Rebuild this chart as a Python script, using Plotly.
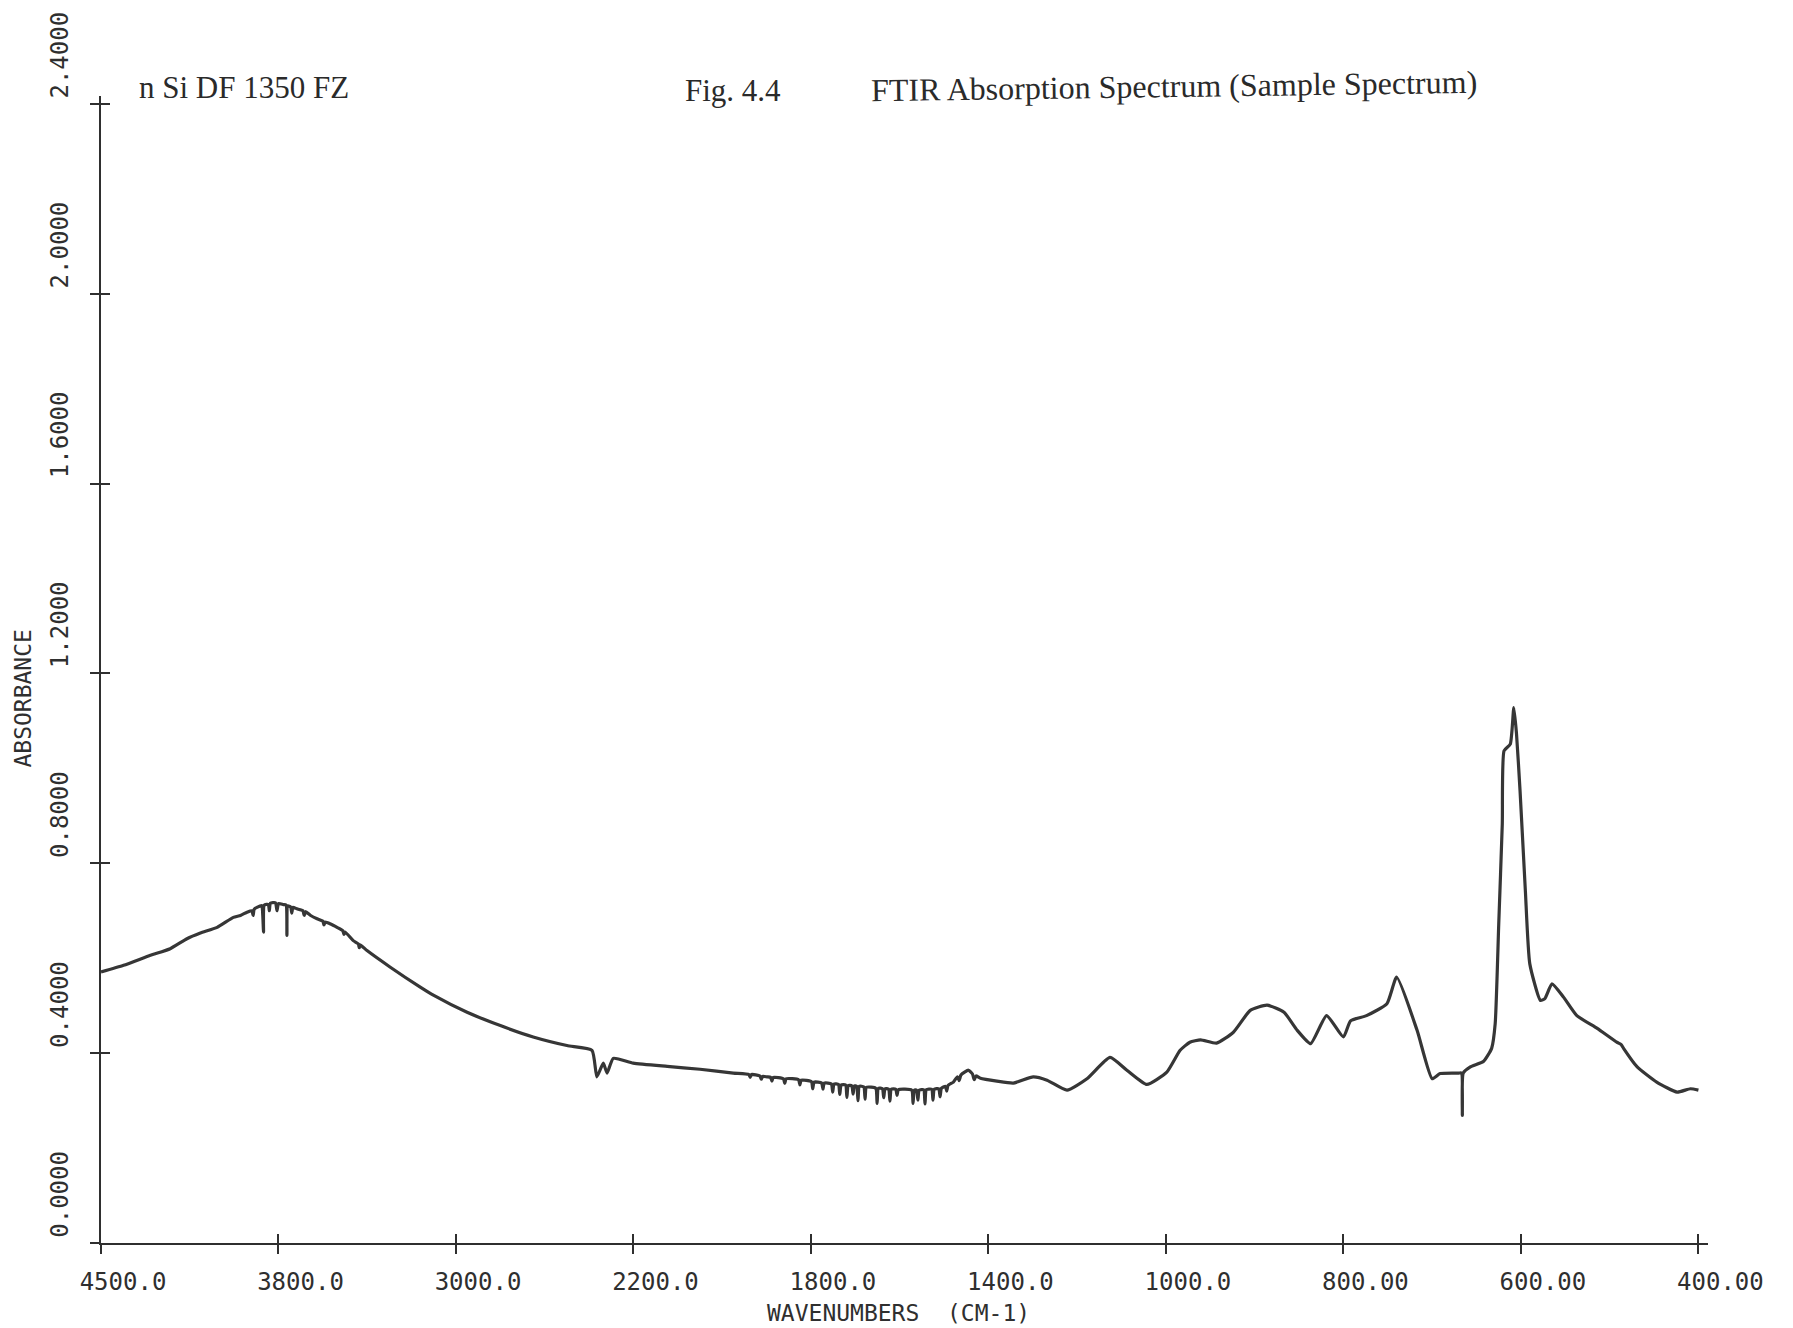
import numpy as np
import plotly.graph_objects as go

# Axis ticks (the wavenumber scale is piecewise between ticks)
tick_wn = [4500, 3800, 3000, 2200, 1800, 1400, 1000, 800, 600, 400]
tick_wn_labels = ["4500.0", "3800.0", "3000.0", "2200.0", "1800.0",
                  "1400.0", "1000.0", "800.00", "600.00", "400.00"]
abs_ticks = [0.0, 0.4, 0.8, 1.2, 1.6, 2.0, 2.4]
abs_tick_labels = ["0.0000", "0.4000", "0.8000", "1.2000", "1.6000", "2.0000", "2.4000"]

# Spectrum: wavenumber (cm-1) and absorbance
wavenumber = [
    4500, 4411, 4305, 4227, 4161, 4108, 4042, 3978, 3950, 3924,
    3905, 3900, 3896, 3885, 3866, 3862, 3859, 3856, 3840, 3836,
    3832, 3812, 3806, 3800, 3778, 3766, 3762, 3758, 3745, 3740,
    3735, 3717, 3690, 3684, 3678, 3655, 3626, 3600, 3595, 3590,
    3565, 3536, 3510, 3505, 3500, 3463, 3440, 3436, 3432, 3401,
    3296, 3161, 3102, 2950, 2800, 2652, 2500, 2387, 2365, 2336,
    2319, 2291, 2201, 2124, 2050, 1975, 1940, 1937, 1934, 1915,
    1912, 1909, 1899,
    1891, 1888, 1885, 1862, 1859, 1856, 1828, 1825, 1822,
    1799, 1796, 1793, 1776, 1773, 1770, 1754, 1751, 1748,
    1738, 1735, 1732, 1722, 1719, 1716, 1708, 1705, 1702,
    1697, 1694, 1691, 1681, 1678, 1675, 1654, 1651, 1648,
    1639, 1636, 1633, 1625, 1622, 1619, 1609, 1606, 1603,
    1573, 1570, 1567, 1562, 1559, 1556, 1546, 1543, 1540,
    1528, 1525, 1522, 1512, 1509, 1506, 1497, 1494, 1491,
    1479, 1470, 1466, 1462, 1445, 1436, 1432, 1428, 1418,
    1381, 1344, 1299, 1268, 1223, 1178, 1126, 1088, 1043, 999,
    984, 973, 961, 943, 924, 905, 886, 867, 852, 837,
    819, 800, 792, 774, 751, 740, 717, 700, 691, 670,
    667, 666, 665, 657, 642, 633, 629, 625, 621, 619,
    612, 608, 605, 601, 595, 590, 578, 573, 565, 552,
    537, 514, 492, 487, 484, 469, 447, 424, 409, 400,
]
absorbance = [
    0.571, 0.585, 0.606, 0.620, 0.641, 0.653, 0.665, 0.686, 0.690, 0.697,
    0.700, 0.690, 0.703, 0.707, 0.711, 0.690, 0.655, 0.712, 0.713, 0.700,
    0.716, 0.717, 0.700, 0.715, 0.713, 0.712, 0.648, 0.710, 0.708, 0.695,
    0.707, 0.704, 0.700, 0.690, 0.698, 0.690, 0.683, 0.678, 0.670, 0.676,
    0.672, 0.665, 0.658, 0.650, 0.655, 0.637, 0.630, 0.622, 0.628, 0.616,
    0.581, 0.539, 0.522, 0.486, 0.458, 0.434, 0.416, 0.406, 0.350, 0.379,
    0.358, 0.389, 0.379, 0.372, 0.366, 0.358, 0.355, 0.349, 0.355, 0.352,
    0.345, 0.351, 0.350,
    0.349, 0.341, 0.349, 0.346, 0.336, 0.346, 0.344, 0.333, 0.343,
    0.340, 0.325, 0.339, 0.337, 0.324, 0.337, 0.335, 0.318, 0.335,
    0.334, 0.313, 0.333, 0.333, 0.307, 0.332, 0.331, 0.314, 0.331,
    0.330, 0.300, 0.330, 0.329, 0.303, 0.328, 0.326, 0.294, 0.326,
    0.325, 0.306, 0.325, 0.324, 0.299, 0.324, 0.324, 0.311, 0.323,
    0.322, 0.294, 0.322, 0.322, 0.301, 0.322, 0.323, 0.293, 0.323,
    0.324, 0.301, 0.324, 0.325, 0.308, 0.326, 0.330, 0.320, 0.332,
    0.339, 0.350, 0.342, 0.354, 0.364, 0.356, 0.344, 0.352, 0.347,
    0.341, 0.337, 0.350, 0.343, 0.322, 0.346, 0.391, 0.364, 0.334, 0.360,
    0.406, 0.423, 0.428, 0.421, 0.444, 0.490, 0.501, 0.486, 0.448, 0.420,
    0.479, 0.434, 0.468, 0.479, 0.504, 0.560, 0.448, 0.346, 0.357, 0.358,
    0.358, 0.269, 0.358, 0.371, 0.383, 0.410, 0.462, 0.672, 0.883, 1.037,
    1.051, 1.128, 1.073, 0.953, 0.742, 0.588, 0.511, 0.515, 0.546, 0.518,
    0.479, 0.452, 0.423, 0.418, 0.409, 0.371, 0.339, 0.318, 0.325, 0.322,
]

# Map wavenumbers onto the evenly spaced tick positions of the plotter scale
tick_pos = np.arange(len(tick_wn), dtype=float)


def to_axis(wn):
    return np.interp(-np.asarray(wn, dtype=float), -np.asarray(tick_wn, dtype=float), tick_pos)


ink = "#2f2f2f"
plotter_font = dict(family="DejaVu Sans Mono", size=24, color=ink)
title_font = dict(family="DejaVu Sans Mono", size=23, color=ink)
serif_font = dict(family="Liberation Serif", size=31, color="#2a2a2a")

x_range = [0, 9.054]
y_range = [0, 2.4164]

fig = go.Figure()
fig.add_trace(go.Scatter(
    x=to_axis(wavenumber), y=absorbance, mode="lines",
    line=dict(color="#363636", width=3.2, shape="spline", smoothing=0.5),
    showlegend=False, hoverinfo="skip",
))
# Companion trace on the overlaid axes that carry the inner half of each tick
fig.add_trace(go.Scatter(
    x=[to_axis(tick_wn)[0]], y=[abs_ticks[0]], mode="markers",
    marker=dict(opacity=0), xaxis="x2", yaxis="y2",
    showlegend=False, hoverinfo="skip",
))

fig.update_layout(
    width=1793, height=1328,
    margin=dict(l=101, r=85, t=94, b=85),
    paper_bgcolor="white", plot_bgcolor="white",
    xaxis=dict(
        range=x_range, tickmode="array",
        tickvals=to_axis(tick_wn), ticktext=tick_wn_labels,
        ticks="outside", ticklen=9, tickwidth=2, tickcolor=ink,
        showline=True, linewidth=2, linecolor=ink,
        showgrid=False, zeroline=False,
        tickfont=plotter_font, ticklabelshift=22, ticklabelstandoff=7,
    ),
    yaxis=dict(
        range=y_range, tickmode="array",
        tickvals=abs_ticks, ticktext=abs_tick_labels,
        ticks="outside", ticklen=9, tickwidth=2, tickcolor=ink,
        showline=True, linewidth=2, linecolor=ink,
        showgrid=False, zeroline=False, tickangle=-90,
        tickfont=plotter_font, ticklabelshift=-45, ticklabelstandoff=12,
    ),
    xaxis2=dict(
        range=x_range, overlaying="x", anchor="y2", side="bottom",
        tickmode="array", tickvals=to_axis(tick_wn),
        ticks="inside", ticklen=9, tickwidth=2, tickcolor=ink,
        showticklabels=False, showline=False, showgrid=False, zeroline=False,
    ),
    yaxis2=dict(
        range=y_range, overlaying="y", anchor="x2", side="left",
        tickmode="array", tickvals=abs_ticks,
        ticks="inside", ticklen=9, tickwidth=2, tickcolor=ink,
        showticklabels=False, showline=False, showgrid=False, zeroline=False,
    ),
    annotations=[
        dict(text="WAVENUMBERS  (CM-1)", xref="paper", yref="paper",
             x=0.496, y=-0.061, xanchor="center", yanchor="middle",
             showarrow=False, font=title_font),
        dict(text="ABSORBANCE", xref="paper", yref="paper",
             x=-0.0483, y=0.475, xanchor="center", yanchor="middle",
             textangle=-90, showarrow=False, font=title_font),
        dict(text="n Si DF 1350 FZ", xref="paper", yref="paper",
             x=0.0226, y=1.007, xanchor="left", yanchor="middle",
             showarrow=False, font=serif_font),
        dict(text="Fig. 4.4", xref="paper", yref="paper",
             x=0.393, y=1.005, xanchor="center", yanchor="middle",
             showarrow=False, font=serif_font),
        dict(text="FTIR Absorption Spectrum (Sample Spectrum)", xref="paper", yref="paper",
             x=0.478, y=1.009, xanchor="left", yanchor="middle", textangle=-0.8,
             showarrow=False, font=dict(family="Liberation Serif", size=32, color="#2a2a2a")),
    ],
)

fig.write_html("out.html")
